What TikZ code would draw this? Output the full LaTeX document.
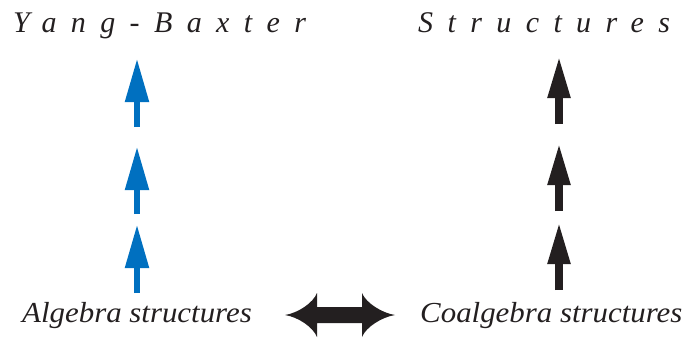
\documentclass[tikz,border=0pt]{standalone}
\usepackage{fontspec}
\setmainfont{Liberation Serif}
\usetikzlibrary{arrows.meta}

\definecolor{inkblack}{RGB}{35,31,32}
\definecolor{algblue}{RGB}{0,112,192}

\tikzset{
  title/.style={anchor=base west, inner sep=0pt, text=inkblack,
    font=\fontsize{30}{33}\selectfont\itshape\addfontfeature{LetterSpace=48}},
  label/.style={anchor=base west, inner sep=0pt, text=inkblack,
    font=\fontsize{29}{32}\selectfont\itshape},
  bluearrow/.style={draw=algblue, line width=5.3pt,
    -{Triangle[width=23pt, length=43pt, fill=algblue]}},
  blackarrow/.style={draw=inkblack, line width=8pt,
    -{Triangle[width=21pt, length=42pt, fill=inkblack]}},
}

\begin{document}
\begin{tikzpicture}[x=1pt, y=-1pt]
  \useasboundingbox (0,0) rectangle (684,338);

  % headings
  \node[title] (yb) at (13,32) {Yang-Baxter};
  \node[title] (st) at (418,32) {Structures};

  % bottom labels
  \node[label] (alg) at (22,322) {\scalebox{1.065}[1]{Algebra structures}};
  \node[label] (coalg) at (420,322) {\scalebox{1.065}[1]{Coalgebra structures}};

  % blue column
  \coordinate (b1s) at (137,127); \coordinate (b1e) at (137,59);
  \coordinate (b2s) at (137,214); \coordinate (b2e) at (137,147);
  \coordinate (b3s) at (137,293); \coordinate (b3e) at (137,225);
  \draw[bluearrow] (b1s) -- (b1e);
  \draw[bluearrow] (b2s) -- (b2e);
  \draw[bluearrow] (b3s) -- (b3e);

  % black column
  \coordinate (k1s) at (559,124); \coordinate (k1e) at (559,56);
  \coordinate (k2s) at (559,211); \coordinate (k2e) at (559,143);
  \coordinate (k3s) at (559,290); \coordinate (k3e) at (559,222);
  \draw[blackarrow] (k1s) -- (k1e);
  \draw[blackarrow] (k2s) -- (k2e);
  \draw[blackarrow] (k3s) -- (k3e);

  % double-headed arrow with flared heads
  \fill[inkblack]
    (285,315)
      .. controls (298,313) and (313,303) .. (317,293)
      -- (317,307) -- (362,307) -- (362,293)
      .. controls (366,303) and (382,313) .. (395,315)
      .. controls (382,317) and (366,327) .. (362,337)
      -- (362,323) -- (317,323) -- (317,337)
      .. controls (313,327) and (298,317) .. (285,315) -- cycle;
\end{tikzpicture}
\end{document}
